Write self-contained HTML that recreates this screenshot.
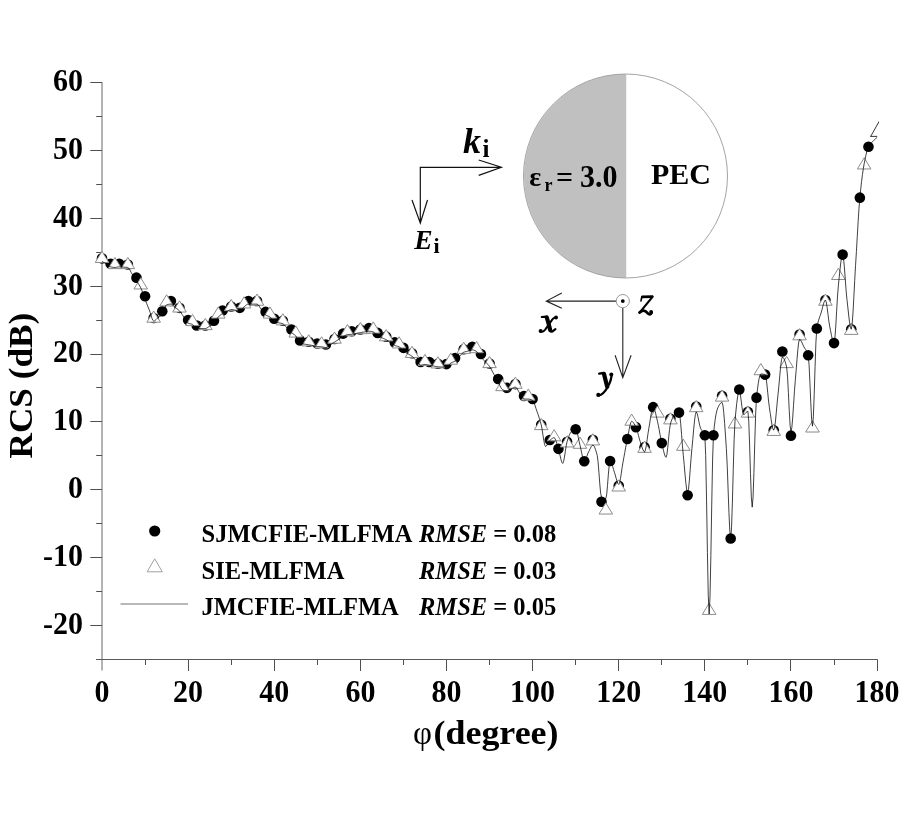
<!DOCTYPE html>
<html><head><meta charset="utf-8"><style>
html,body{margin:0;padding:0;background:#fff;}
body{width:900px;height:814px;overflow:hidden;font-family:"Liberation Serif",serif;}
svg{display:block;transform:translateZ(0);}
</style></head><body>
<svg width="900" height="814" viewBox="0 0 900 814">
<line x1="102" y1="82" x2="102" y2="670.5" stroke="#b4b4b4" stroke-width="2"/>
<line x1="96" y1="659.5" x2="877.5" y2="659.5" stroke="#5a5a5a" stroke-width="1.2"/>
<path d="M90.3 625.50H102 M96.2 591.50H102 M90.3 557.50H102 M96.2 523.50H102 M90.3 489.50H102 M96.2 455.50H102 M90.3 421.50H102 M96.2 387.50H102 M90.3 354.50H102 M96.2 320.50H102 M90.3 286.50H102 M96.2 252.50H102 M90.3 218.50H102 M96.2 184.50H102 M90.3 150.50H102 M96.2 116.50H102 M90.3 82.50H102 M145.50 659.5V665 M188.50 659.5V671 M231.50 659.5V665 M274.50 659.5V671 M317.50 659.5V665 M360.50 659.5V671 M403.50 659.5V665 M446.50 659.5V671 M489.50 659.5V665 M532.50 659.5V671 M575.50 659.5V665 M618.50 659.5V671 M661.50 659.5V665 M704.50 659.5V671 M747.50 659.5V665 M790.50 659.5V671 M834.50 659.5V665 M877.50 659.5V671" stroke="#505050" stroke-width="1" fill="none"/>
<g font-family="Liberation Serif" font-weight="bold" font-size="30" fill="#000"><text transform="translate(83,633.5) scale(1,1.07)" text-anchor="end">-20</text><text transform="translate(83,565.7) scale(1,1.07)" text-anchor="end">-10</text><text transform="translate(83,497.9) scale(1,1.07)" text-anchor="end">0</text><text transform="translate(83,430.1) scale(1,1.07)" text-anchor="end">10</text><text transform="translate(83,362.3) scale(1,1.07)" text-anchor="end">20</text><text transform="translate(83,294.5) scale(1,1.07)" text-anchor="end">30</text><text transform="translate(83,226.7) scale(1,1.07)" text-anchor="end">40</text><text transform="translate(83,158.9) scale(1,1.07)" text-anchor="end">50</text><text transform="translate(83,91.1) scale(1,1.07)" text-anchor="end">60</text><text transform="translate(102.0,701.6) scale(1,1.07)" text-anchor="middle">0</text><text transform="translate(188.1,701.6) scale(1,1.07)" text-anchor="middle">20</text><text transform="translate(274.2,701.6) scale(1,1.07)" text-anchor="middle">40</text><text transform="translate(360.4,701.6) scale(1,1.07)" text-anchor="middle">60</text><text transform="translate(446.5,701.6) scale(1,1.07)" text-anchor="middle">80</text><text transform="translate(532.6,701.6) scale(1,1.07)" text-anchor="middle">100</text><text transform="translate(618.7,701.6) scale(1,1.07)" text-anchor="middle">120</text><text transform="translate(704.8,701.6) scale(1,1.07)" text-anchor="middle">140</text><text transform="translate(791.0,701.6) scale(1,1.07)" text-anchor="middle">160</text><text transform="translate(877.1,701.6) scale(1,1.07)" text-anchor="middle">180</text></g>
<text transform="translate(32,458.5) rotate(-90) scale(1.035,1)" font-family="Liberation Serif" font-weight="bold" font-size="34">RCS (dB)</text>
<text x="413" y="743.5" font-family="Liberation Serif" font-size="33">φ</text>
<text transform="translate(433.5,743.5) scale(1.089,1)" font-family="Liberation Serif" font-weight="bold" font-size="33">(degree)</text>
<path d="M626 74 A102 102 0 0 0 626 278 Z" fill="#c0c0c0"/>
<circle cx="625.5" cy="176" r="102" fill="none" stroke="#9a9a9a" stroke-width="0.9"/>
<line x1="626" y1="74" x2="626" y2="278" stroke="#c0c0c0" stroke-width="0.5"/>
<defs><clipPath id="pc"><rect x="95" y="60" width="784" height="620"/></clipPath></defs>
<g clip-path="url(#pc)">
<g fill="#000"><circle cx="102.00" cy="258.34" r="5.3"/><circle cx="110.61" cy="263.76" r="5.3"/><circle cx="119.22" cy="263.76" r="5.3"/><circle cx="127.84" cy="264.44" r="5.3"/><circle cx="136.45" cy="277.66" r="5.3"/><circle cx="145.06" cy="296.31" r="5.3"/><circle cx="153.67" cy="318.00" r="5.3"/><circle cx="162.28" cy="311.23" r="5.3"/><circle cx="170.90" cy="301.05" r="5.3"/><circle cx="179.51" cy="307.83" r="5.3"/><circle cx="188.12" cy="320.04" r="5.3"/><circle cx="196.73" cy="325.46" r="5.3"/><circle cx="205.34" cy="325.46" r="5.3"/><circle cx="213.96" cy="320.72" r="5.3"/><circle cx="222.57" cy="310.55" r="5.3"/><circle cx="231.18" cy="306.48" r="5.3"/><circle cx="239.79" cy="307.83" r="5.3"/><circle cx="248.40" cy="301.05" r="5.3"/><circle cx="257.02" cy="301.05" r="5.3"/><circle cx="265.63" cy="311.90" r="5.3"/><circle cx="274.24" cy="318.68" r="5.3"/><circle cx="282.85" cy="320.72" r="5.3"/><circle cx="291.46" cy="329.53" r="5.3"/><circle cx="300.08" cy="340.38" r="5.3"/><circle cx="308.69" cy="341.74" r="5.3"/><circle cx="317.30" cy="343.43" r="5.3"/><circle cx="325.91" cy="344.45" r="5.3"/><circle cx="334.52" cy="339.02" r="5.3"/><circle cx="343.14" cy="333.60" r="5.3"/><circle cx="351.75" cy="331.23" r="5.3"/><circle cx="360.36" cy="329.53" r="5.3"/><circle cx="368.97" cy="328.17" r="5.3"/><circle cx="377.58" cy="332.92" r="5.3"/><circle cx="386.20" cy="336.65" r="5.3"/><circle cx="394.81" cy="342.41" r="5.3"/><circle cx="403.42" cy="347.84" r="5.3"/><circle cx="412.03" cy="353.26" r="5.3"/><circle cx="420.64" cy="362.07" r="5.3"/><circle cx="429.26" cy="362.07" r="5.3"/><circle cx="437.87" cy="363.77" r="5.3"/><circle cx="446.48" cy="364.11" r="5.3"/><circle cx="455.09" cy="358.01" r="5.3"/><circle cx="463.70" cy="349.19" r="5.3"/><circle cx="472.32" cy="346.82" r="5.3"/><circle cx="480.93" cy="353.94" r="5.3"/><circle cx="489.54" cy="363.43" r="5.3"/><circle cx="498.15" cy="379.02" r="5.3"/><circle cx="506.76" cy="387.84" r="5.3"/><circle cx="515.38" cy="384.11" r="5.3"/><circle cx="523.99" cy="395.97" r="5.3"/><circle cx="532.60" cy="399.03" r="5.3"/><circle cx="541.21" cy="424.79" r="5.3"/><circle cx="549.82" cy="440.04" r="5.3"/><circle cx="558.44" cy="448.86" r="5.3"/><circle cx="567.05" cy="441.74" r="5.3"/><circle cx="575.66" cy="429.20" r="5.3"/><circle cx="584.27" cy="461.20" r="5.3"/><circle cx="592.88" cy="439.71" r="5.3"/><circle cx="601.50" cy="501.74" r="5.3"/><circle cx="610.11" cy="460.93" r="5.3"/><circle cx="618.72" cy="485.81" r="5.3"/><circle cx="627.33" cy="439.03" r="5.3"/><circle cx="635.94" cy="427.16" r="5.3"/><circle cx="644.56" cy="447.16" r="5.3"/><circle cx="653.17" cy="407.16" r="5.3"/><circle cx="661.78" cy="443.10" r="5.3"/><circle cx="670.39" cy="418.69" r="5.3"/><circle cx="679.00" cy="412.59" r="5.3"/><circle cx="687.62" cy="495.30" r="5.3"/><circle cx="696.23" cy="406.48" r="5.3"/><circle cx="704.84" cy="435.30" r="5.3"/><circle cx="713.45" cy="435.30" r="5.3"/><circle cx="722.06" cy="395.91" r="5.3"/><circle cx="730.68" cy="538.49" r="5.3"/><circle cx="739.29" cy="389.53" r="5.3"/><circle cx="747.90" cy="411.91" r="5.3"/><circle cx="756.51" cy="397.67" r="5.3"/><circle cx="765.12" cy="374.62" r="5.3"/><circle cx="773.74" cy="430.21" r="5.3"/><circle cx="782.35" cy="351.57" r="5.3"/><circle cx="790.96" cy="435.64" r="5.3"/><circle cx="799.57" cy="334.62" r="5.3"/><circle cx="808.18" cy="355.23" r="5.3"/><circle cx="816.80" cy="328.51" r="5.3"/><circle cx="825.41" cy="300.04" r="5.3"/><circle cx="834.02" cy="343.09" r="5.3"/><circle cx="842.63" cy="254.61" r="5.3"/><circle cx="851.24" cy="329.19" r="5.3"/><circle cx="859.86" cy="197.66" r="5.3"/><circle cx="868.47" cy="146.81" r="5.3"/></g>
<path d="M102.00 251.32L108.80 262.52L95.20 262.52ZM114.92 257.43L121.72 268.63L108.12 268.63ZM127.84 257.43L134.64 268.63L121.04 268.63ZM140.75 277.77L147.55 288.97L133.95 288.97ZM153.67 310.99L160.47 322.19L146.87 322.19ZM166.59 294.72L173.39 305.92L159.79 305.92ZM179.51 300.82L186.31 312.02L172.71 312.02ZM192.43 314.38L199.23 325.58L185.63 325.58ZM205.34 318.45L212.14 329.65L198.54 329.65ZM218.26 306.92L225.06 318.12L211.46 318.12ZM231.18 299.46L237.98 310.66L224.38 310.66ZM244.10 296.75L250.90 307.95L237.30 307.95ZM257.02 294.04L263.82 305.24L250.22 305.24ZM269.93 306.92L276.73 318.12L263.13 318.12ZM282.85 313.70L289.65 324.90L276.05 324.90ZM295.77 325.90L302.57 337.10L288.97 337.10ZM308.69 334.72L315.49 345.92L301.89 345.92ZM321.61 336.75L328.41 347.95L314.81 347.95ZM334.52 332.01L341.32 343.21L327.72 343.21ZM347.44 324.55L354.24 335.75L340.64 335.75ZM360.36 322.51L367.16 333.71L353.56 333.71ZM373.28 321.84L380.08 333.04L366.48 333.04ZM386.20 329.63L393.00 340.83L379.40 340.83ZM399.11 336.75L405.91 347.95L392.31 347.95ZM412.03 346.24L418.83 357.44L405.23 357.44ZM424.95 354.38L431.75 365.58L418.15 365.58ZM437.87 356.75L444.67 367.95L431.07 367.95ZM450.79 353.02L457.59 364.22L443.99 364.22ZM463.70 342.18L470.50 353.38L456.90 353.38ZM476.62 341.50L483.42 352.70L469.82 352.70ZM489.54 356.41L496.34 367.61L482.74 367.61ZM502.46 379.47L509.26 390.67L495.66 390.67ZM515.38 377.09L522.18 388.29L508.58 388.29ZM528.29 388.96L535.09 400.16L521.49 400.16ZM541.21 418.45L548.01 429.65L534.41 429.65ZM554.13 429.64L560.93 440.84L547.33 440.84ZM567.05 435.74L573.85 446.94L560.25 446.94ZM579.97 437.10L586.77 448.30L573.17 448.30ZM592.88 433.71L599.68 444.91L586.08 444.91ZM605.80 502.86L612.60 514.06L599.00 514.06ZM618.72 479.81L625.52 491.01L611.92 491.01ZM631.64 414.04L638.44 425.24L624.84 425.24ZM644.56 441.16L651.36 452.36L637.76 452.36ZM657.47 405.91L664.27 417.11L650.67 417.11ZM670.39 412.69L677.19 423.89L663.59 423.89ZM683.31 439.13L690.11 450.33L676.51 450.33ZM696.23 400.48L703.03 411.68L689.43 411.68ZM709.15 603.21L715.95 614.41L702.35 614.41ZM722.06 389.91L728.86 401.11L715.26 401.11ZM734.98 416.76L741.78 427.96L728.18 427.96ZM747.90 405.91L754.70 417.11L741.10 417.11ZM760.82 363.53L767.62 374.73L754.02 374.73ZM773.74 424.21L780.54 435.41L766.94 435.41ZM786.65 356.41L793.45 367.61L779.85 367.61ZM799.57 328.62L806.37 339.82L792.77 339.82ZM812.49 420.82L819.29 432.02L805.69 432.02ZM825.41 294.04L832.21 305.24L818.61 305.24ZM838.33 268.27L845.13 279.47L831.53 279.47ZM851.24 323.19L858.04 334.39L844.44 334.39ZM864.16 157.76L870.96 168.96L857.36 168.96Z" fill="#fff" stroke="#8c8c8c" stroke-width="1"/>
<polyline points="102.00,261.39 102.86,261.93 103.72,262.48 104.58,263.02 105.44,263.56 106.31,264.10 107.17,264.70 108.03,265.35 108.89,265.97 109.75,266.48 110.61,266.82 111.47,267.03 112.33,267.21 113.20,267.36 114.06,267.46 114.92,267.49 115.78,267.42 116.64,267.26 117.50,267.05 118.36,266.89 119.22,266.82 120.09,266.84 120.95,266.90 121.81,266.99 122.67,267.08 123.53,267.16 124.39,267.21 125.25,267.26 126.11,267.31 126.97,267.39 127.84,267.49 128.70,268.05 129.56,269.28 130.42,270.89 131.28,272.59 132.14,274.10 133.00,275.42 133.86,276.73 134.73,278.04 135.59,279.36 136.45,280.71 137.31,282.05 138.17,283.36 139.03,284.72 139.89,286.19 140.75,287.83 141.62,289.80 142.48,292.09 143.34,294.54 144.20,297.01 145.06,299.36 145.92,301.57 146.78,303.75 147.64,305.90 148.50,308.05 149.37,310.21 150.23,312.72 151.09,315.59 151.95,318.28 152.81,320.27 153.67,321.06 154.53,320.81 155.39,320.19 156.26,319.35 157.12,318.45 157.98,317.67 158.84,317.04 159.70,316.46 160.56,315.86 161.42,315.16 162.28,314.28 163.15,312.69 164.01,310.34 164.87,307.83 165.73,305.77 166.59,304.78 167.45,304.55 168.31,304.36 169.17,304.22 170.03,304.14 170.90,304.11 171.76,304.35 172.62,304.97 173.48,305.81 174.34,306.71 175.20,307.50 176.06,308.14 176.92,308.76 177.79,309.39 178.65,310.08 179.51,310.89 180.37,311.88 181.23,313.08 182.09,314.38 182.95,315.71 183.81,316.99 184.68,318.33 185.54,319.80 186.40,321.21 187.26,322.37 188.12,323.09 188.98,323.45 189.84,323.69 190.70,323.89 191.56,324.12 192.43,324.45 193.29,325.13 194.15,326.17 195.01,327.28 195.87,328.16 196.73,328.51 197.59,328.51 198.45,328.51 199.32,328.51 200.18,328.51 201.04,328.51 201.90,328.51 202.76,328.51 203.62,328.51 204.48,328.51 205.34,328.51 206.21,328.34 207.07,327.91 207.93,327.32 208.79,326.69 209.65,326.14 210.51,325.70 211.37,325.30 212.23,324.88 213.09,324.39 213.96,323.77 214.82,322.76 215.68,321.31 216.54,319.69 217.40,318.16 218.26,316.99 219.12,316.14 219.98,315.39 220.85,314.72 221.71,314.13 222.57,313.60 223.43,313.13 224.29,312.71 225.15,312.33 226.01,311.95 226.87,311.56 227.74,311.09 228.60,310.56 229.46,310.05 230.32,309.68 231.18,309.53 232.04,309.58 232.90,309.70 233.76,309.87 234.62,310.05 235.49,310.21 236.35,310.37 237.21,310.54 238.07,310.71 238.93,310.84 239.79,310.89 240.65,310.57 241.51,309.77 242.38,308.72 243.24,307.66 244.10,306.82 244.96,306.12 245.82,305.39 246.68,304.75 247.54,304.28 248.40,304.11 249.27,304.11 250.13,304.11 250.99,304.11 251.85,304.11 252.71,304.11 253.57,304.11 254.43,304.11 255.29,304.11 256.15,304.11 257.02,304.11 257.88,304.50 258.74,305.49 259.60,306.84 260.46,308.27 261.32,309.53 262.18,310.69 263.04,311.94 263.91,313.14 264.77,314.18 265.63,314.95 266.49,315.45 267.35,315.82 268.21,316.15 269.07,316.51 269.93,316.99 270.80,317.79 271.66,318.91 272.52,320.10 273.38,321.12 274.24,321.73 275.10,322.02 275.96,322.24 276.82,322.41 277.68,322.57 278.55,322.75 279.41,322.93 280.27,323.10 281.13,323.27 281.99,323.48 282.85,323.77 283.71,324.30 284.57,325.13 285.44,326.15 286.30,327.21 287.16,328.17 288.02,329.07 288.88,329.99 289.74,330.90 290.60,331.77 291.46,332.58 292.33,333.28 293.19,333.88 294.05,334.48 294.91,335.15 295.77,335.97 296.63,337.30 297.49,339.15 298.35,341.07 299.21,342.64 300.08,343.43 300.94,343.64 301.80,343.78 302.66,343.89 303.52,343.99 304.38,344.11 305.24,344.24 306.10,344.37 306.97,344.50 307.83,344.64 308.69,344.79 309.55,344.94 310.41,345.11 311.27,345.29 312.13,345.46 312.99,345.63 313.86,345.81 314.72,346.01 315.58,346.19 316.44,346.36 317.30,346.48 318.16,346.56 319.02,346.63 319.88,346.68 320.74,346.74 321.61,346.82 322.47,346.95 323.33,347.12 324.19,347.30 325.05,347.44 325.91,347.50 326.77,347.30 327.63,346.80 328.50,346.13 329.36,345.42 330.22,344.79 331.08,344.24 331.94,343.70 332.80,343.16 333.66,342.62 334.52,342.07 335.39,341.53 336.25,340.99 337.11,340.45 337.97,339.90 338.83,339.36 339.69,338.81 340.55,338.24 341.41,337.68 342.27,337.14 343.14,336.65 344.00,336.16 344.86,335.66 345.72,335.19 346.58,334.83 347.44,334.62 348.30,334.52 349.16,334.46 350.03,334.41 350.89,334.36 351.75,334.28 352.61,334.15 353.47,333.99 354.33,333.80 355.19,333.61 356.05,333.43 356.92,333.26 357.78,333.08 358.64,332.91 359.50,332.74 360.36,332.58 361.22,332.44 362.08,332.30 362.94,332.17 363.80,332.04 364.67,331.90 365.53,331.75 366.39,331.57 367.25,331.40 368.11,331.27 368.97,331.23 369.83,331.26 370.69,331.35 371.56,331.50 372.42,331.68 373.28,331.90 374.14,332.39 375.00,333.26 375.86,334.28 376.72,335.26 377.58,335.97 378.45,336.43 379.31,336.82 380.17,337.16 381.03,337.49 381.89,337.84 382.75,338.20 383.61,338.54 384.47,338.90 385.33,339.28 386.20,339.70 387.06,340.20 387.92,340.76 388.78,341.37 389.64,341.99 390.50,342.58 391.36,343.19 392.22,343.83 393.09,344.46 393.95,345.02 394.81,345.46 395.67,345.78 396.53,346.01 397.39,346.23 398.25,346.48 399.11,346.82 399.98,347.40 400.84,348.23 401.70,349.18 402.56,350.11 403.42,350.89 404.28,351.50 405.14,352.05 406.00,352.57 406.86,353.07 407.73,353.60 408.59,354.12 409.45,354.62 410.31,355.13 411.17,355.69 412.03,356.31 412.89,357.06 413.75,357.92 414.62,358.86 415.48,359.80 416.34,360.72 417.20,361.74 418.06,362.90 418.92,364.00 419.78,364.81 420.64,365.13 421.51,365.06 422.37,364.89 423.23,364.69 424.09,364.52 424.95,364.45 425.81,364.49 426.67,364.61 427.53,364.78 428.39,364.96 429.26,365.13 430.12,365.28 430.98,365.45 431.84,365.63 432.70,365.80 433.56,365.97 434.42,366.16 435.28,366.37 436.15,366.56 437.01,366.72 437.87,366.82 438.73,366.87 439.59,366.91 440.45,366.93 441.31,366.96 442.17,366.99 443.04,367.03 443.90,367.07 444.76,367.12 445.62,367.15 446.48,367.16 447.34,366.82 448.20,365.99 449.06,364.91 449.92,363.86 450.79,363.09 451.65,362.62 452.51,362.25 453.37,361.91 454.23,361.54 455.09,361.06 455.95,360.38 456.81,359.53 457.68,358.57 458.54,357.58 459.40,356.65 460.26,355.69 461.12,354.64 461.98,353.64 462.84,352.80 463.70,352.24 464.57,351.92 465.43,351.67 466.29,351.47 467.15,351.27 468.01,351.06 468.87,350.78 469.73,350.47 470.59,350.17 471.45,349.96 472.32,349.87 473.18,349.96 474.04,350.22 474.90,350.60 475.76,351.06 476.62,351.57 477.48,352.30 478.34,353.36 479.21,354.60 480.07,355.86 480.93,356.99 481.79,357.98 482.65,358.93 483.51,359.87 484.37,360.80 485.23,361.74 486.10,362.65 486.96,363.52 487.82,364.42 488.68,365.39 489.54,366.48 490.40,367.80 491.26,369.33 492.12,370.98 492.98,372.66 493.85,374.28 494.71,375.84 495.57,377.41 496.43,378.98 497.29,380.54 498.15,382.08 499.01,383.75 499.87,385.58 500.74,387.31 501.60,388.71 502.46,389.53 503.32,389.97 504.18,390.34 505.04,390.63 505.90,390.82 506.76,390.89 507.63,390.76 508.49,390.41 509.35,389.95 510.21,389.46 511.07,389.03 511.93,388.59 512.79,388.10 513.65,387.64 514.51,387.30 515.38,387.16 516.24,387.59 517.10,388.68 517.96,390.15 518.82,391.72 519.68,393.09 520.54,394.47 521.40,396.04 522.27,397.51 523.13,398.60 523.99,399.03 524.85,399.03 525.71,399.03 526.57,399.03 527.43,399.03 528.29,399.03 529.16,399.09 530.02,399.27 530.88,399.56 531.74,399.93 532.60,400.38 533.46,401.43 534.32,403.39 535.18,405.91 536.04,408.64 536.91,411.23 537.77,413.65 538.63,416.14 539.49,418.77 540.35,421.63 541.21,424.79 542.07,429.18 542.93,434.83 543.80,440.45 544.66,444.76 545.52,446.49 546.38,445.97 547.24,444.70 548.10,443.07 548.96,441.50 549.82,440.38 550.69,439.62 551.55,438.89 552.41,438.27 553.27,437.83 554.13,437.67 554.99,438.46 555.85,440.51 556.71,443.31 557.57,446.37 558.44,449.20 559.30,452.31 560.16,456.04 561.02,459.65 561.88,462.36 562.74,463.44 563.60,461.62 564.46,457.13 565.33,451.37 566.19,445.77 567.05,441.74 567.91,439.03 568.77,436.54 569.63,434.37 570.49,432.68 571.35,431.57 572.22,430.83 573.08,430.18 573.94,429.66 574.80,429.32 575.66,429.20 576.52,430.34 577.38,433.27 578.24,437.22 579.10,441.42 579.97,445.13 580.83,448.85 581.69,453.09 582.55,457.08 583.41,460.04 584.27,461.20 585.13,460.48 585.99,458.68 586.86,456.31 587.72,453.88 588.58,451.91 589.44,450.20 590.30,448.39 591.16,446.76 592.02,445.58 592.88,445.13 593.75,445.66 594.61,447.14 595.47,449.36 596.33,452.15 597.19,455.30 598.05,461.68 598.91,472.20 599.77,483.73 600.63,493.15 601.50,497.34 602.36,497.81 603.22,498.19 604.08,498.47 604.94,498.64 605.80,498.69 606.66,494.74 607.52,485.33 608.39,474.09 609.25,464.67 610.11,460.72 610.97,461.54 611.83,463.64 612.69,466.49 613.55,469.53 614.41,472.25 615.28,475.04 616.14,478.25 617.00,481.30 617.86,483.56 618.72,484.45 619.58,482.85 620.44,478.76 621.30,473.23 622.16,467.31 623.03,462.08 623.89,457.42 624.75,452.61 625.61,447.84 626.47,443.26 627.33,439.03 628.19,434.64 629.05,429.95 629.92,425.69 630.78,422.59 631.64,421.40 632.50,421.74 633.36,422.64 634.22,423.94 635.08,425.51 635.94,427.16 636.81,429.35 637.67,432.33 638.53,435.68 639.39,438.95 640.25,441.74 641.11,444.33 641.97,447.05 642.83,449.48 643.69,451.24 644.56,451.91 645.42,450.16 646.28,445.70 647.14,439.74 648.00,433.50 648.86,428.18 649.72,423.14 650.58,417.57 651.45,412.42 652.31,408.63 653.17,407.16 654.03,408.09 654.89,410.52 655.75,413.91 656.61,417.72 657.47,421.40 658.34,425.31 659.20,429.86 660.06,434.63 660.92,439.19 661.78,443.10 662.64,446.78 663.50,450.58 664.36,453.97 665.22,456.40 666.09,457.33 666.95,454.35 667.81,447.06 668.67,437.93 669.53,429.46 670.39,424.11 671.25,421.34 672.11,418.97 672.98,417.03 673.84,415.56 674.70,414.62 675.56,413.98 676.42,413.42 677.28,412.98 678.14,412.69 679.00,412.59 679.87,415.75 680.73,423.80 681.59,434.53 682.45,445.76 683.31,455.30 684.17,464.27 685.03,474.16 685.89,483.29 686.75,489.99 687.62,492.59 688.48,489.29 689.34,480.92 690.20,469.79 691.06,458.22 691.92,448.52 692.78,439.59 693.64,429.87 694.51,420.96 695.37,414.44 696.23,411.91 697.09,413.28 697.95,416.68 698.81,421.03 699.67,425.22 700.53,428.18 701.40,429.75 702.26,430.80 703.12,431.77 703.98,433.12 704.84,435.30 705.70,455.63 706.56,500.16 707.42,552.38 708.28,595.81 709.15,613.95 710.01,596.90 710.87,555.64 711.73,505.04 712.59,459.97 713.45,435.30 714.31,426.64 715.17,419.65 716.04,414.24 716.90,410.33 717.76,407.84 718.62,406.12 719.48,404.63 720.34,403.46 721.20,402.69 722.06,402.42 722.93,405.26 723.79,412.79 724.65,423.51 725.51,435.92 726.37,448.52 727.23,465.68 728.09,488.97 728.95,512.67 729.81,531.08 730.68,538.49 731.54,527.86 732.40,501.92 733.26,469.59 734.12,439.77 734.98,421.40 735.84,412.03 736.70,403.69 737.57,396.98 738.43,392.51 739.29,390.89 740.15,393.36 741.01,399.24 741.87,406.27 742.73,412.15 743.59,414.62 744.46,414.27 745.32,413.43 746.18,412.42 747.04,411.58 747.90,411.23 748.76,421.21 749.62,445.00 750.48,473.40 751.34,497.19 752.21,507.17 753.07,497.03 753.93,472.37 754.79,441.83 755.65,414.05 756.51,397.67 757.37,390.21 758.23,383.70 759.10,378.55 759.96,375.16 760.82,373.94 761.68,373.97 762.54,374.05 763.40,374.19 764.26,374.38 765.12,374.62 765.99,377.39 766.85,383.94 767.71,392.42 768.57,401.00 769.43,407.84 770.29,413.59 771.15,419.57 772.01,424.91 772.87,428.74 773.74,430.21 774.60,427.65 775.46,421.08 776.32,412.20 777.18,402.70 778.04,394.28 778.90,385.72 779.76,375.88 780.63,366.60 781.49,359.70 782.35,356.99 783.21,357.49 784.07,358.88 784.93,361.05 785.79,363.85 786.65,367.16 787.52,376.11 788.38,392.36 789.24,410.58 790.10,425.43 790.96,431.57 791.82,427.74 792.68,418.05 793.54,405.19 794.40,391.85 795.27,380.72 796.13,370.58 796.99,359.59 797.85,349.54 798.71,342.20 799.57,339.36 800.43,339.88 801.29,341.23 802.16,343.06 803.02,345.03 803.88,346.82 804.74,348.23 805.60,349.47 806.46,350.86 807.32,352.68 808.18,355.23 809.05,364.53 809.91,382.36 810.77,402.63 811.63,419.25 812.49,426.15 813.35,416.85 814.21,394.36 815.07,366.75 815.93,342.11 816.80,328.51 817.66,323.90 818.52,320.51 819.38,317.86 820.24,315.49 821.10,312.92 821.96,309.77 822.82,306.35 823.69,303.22 824.55,300.93 825.41,300.04 826.27,302.14 827.13,307.39 827.99,314.23 828.85,321.12 829.71,326.48 830.58,330.82 831.44,335.27 832.30,339.20 833.16,342.02 834.02,343.09 834.88,338.43 835.74,326.80 836.60,311.78 837.46,296.93 838.33,285.80 839.19,277.39 840.05,269.01 840.91,261.71 841.77,256.56 842.63,254.61 843.49,258.12 844.35,266.93 845.22,278.45 846.08,290.12 846.94,299.36 847.80,307.04 848.66,315.02 849.52,322.13 850.38,327.24 851.24,329.19 852.11,324.67 852.97,313.07 853.83,297.35 854.69,280.50 855.55,265.46 856.41,251.45 857.27,236.47 858.13,221.73 858.99,208.39 859.86,197.66 860.72,189.07 861.58,181.39 862.44,174.61 863.30,168.73 864.16,163.76 865.02,159.37 865.88,155.33 866.75,151.79 867.61,148.90 868.47,146.81 869.33,145.34 870.19,144.16 871.05,143.18 871.91,142.28 872.77,141.39 873.64,140.50 874.50,139.68 875.36,138.89 876.22,138.11 877.08,137.32" fill="none" stroke="#000" stroke-width="0.75" stroke-linejoin="round"/>
<path d="M870.2 136.4H877.2 M870.8 136.2L879.2 121.3" fill="none" stroke="#000" stroke-width="0.8"/>
</g>
<circle cx="154.7" cy="531" r="5.6" fill="#000"/>
<path d="M154.7 558.8L162.3 571.8L147.1 571.8Z" fill="#fff" stroke="#a0a0a0" stroke-width="1"/>
<line x1="120.5" y1="604" x2="188" y2="604" stroke="#b8b8b8" stroke-width="1.8"/>
<g font-family="Liberation Serif" font-weight="bold" font-size="24.5" fill="#000"><text x="201.5" y="542.4">SJMCFIE-MLFMA</text><text x="201.5" y="579">SIE-MLFMA</text><text x="201.5" y="614.8">JMCFIE-MLFMA</text><text x="419" y="542.4"><tspan font-style="italic">RMSE</tspan> = 0.08</text><text x="419" y="579"><tspan font-style="italic">RMSE</tspan> = 0.03</text><text x="419" y="614.8"><tspan font-style="italic">RMSE</tspan> = 0.05</text></g>
<g font-family="Liberation Serif" font-weight="bold" font-size="30" fill="#000"><text x="651" y="184.4">PEC</text><text x="556" y="186.7">=</text><text transform="translate(580,186.7) scale(1,1.05)">3.0</text></g>
<text x="529.3" y="186" font-family="Liberation Serif" font-weight="bold" font-size="28">ε</text>
<text x="544.5" y="190.6" font-family="Liberation Serif" font-weight="bold" font-size="18">r</text>
<path d="M501.4 167.3H420.3V223.1 M478.7 160L501.4 167.3L478.7 175.4 M412 200L420.3 223.1L427.5 200" fill="none" stroke="#111" stroke-width="1.2"/>
<text x="463" y="152.7" font-family="Liberation Serif" font-weight="bold" font-style="italic" font-size="36">k</text>
<text x="482.5" y="157" font-family="Liberation Serif" font-weight="bold" font-size="25">i</text>
<text x="414.3" y="249" font-family="Liberation Serif" font-weight="bold" font-style="italic" font-size="27.5">E</text>
<text x="433.5" y="253" font-family="Liberation Serif" font-weight="bold" font-size="22">i</text>
<path d="M616.2 301.1H546.3 M561.8 293.1L546.3 301.1L561.8 308.2 M622.8 307.7V377.6 M615.1 355.3L622.8 377.6L631.1 355.3" fill="none" stroke="#222" stroke-width="1.1"/>
<circle cx="622.8" cy="301.1" r="6.6" fill="#fff" stroke="#999" stroke-width="1"/>
<circle cx="622.8" cy="301.1" r="1.9" fill="#000"/>
<g fill="none" stroke="#000" stroke-linecap="round" stroke-linejoin="round"><path d="M641.9 296.9 L652.9 296.6" stroke-width="2.9" stroke-linecap="butt"/><path d="M641.0 300.9 L641.9 296.5" stroke-width="1.6"/><path d="M652.7 296.6 L639.6 312.6" stroke-width="2.2"/><path d="M639.6 312.6 Q643.6 308.6 647.4 312.9 Q650.3 315.8 651.6 312.6" stroke-width="2.8"/><path d="M541.8 317.0 L546.3 316.6 Q548.3 322 549.3 327.5 Q550.3 332.5 552.3 331.6 L555.4 329.2" stroke-width="2.2"/><path d="M546.8 317.5 Q548.8 324 550.2 330" stroke-width="4.2"/><path d="M540.4 331.4 Q542.5 332.8 545.2 329.6 Q549.5 323.6 552.2 319.6 Q553.8 317.4 555.8 317.8" stroke-width="2.0"/><path d="M599.2 373.6 L603.6 373.0" stroke-width="2.4"/><path d="M604.0 374.0 L607.2 386.8" stroke-width="4.2"/><path d="M611.6 374.6 Q611.6 380 607.6 387.2 Q603.2 394.8 598.8 395.4" stroke-width="2.3"/></g><g fill="#000"><circle cx="651.1" cy="311.9" r="1.9"/><circle cx="540.6" cy="331.0" r="2.0"/><circle cx="556.0" cy="317.6" r="2.0"/><circle cx="611.3" cy="374.6" r="2.0"/><circle cx="598.3" cy="394.9" r="2.1"/></g>
</svg>
</body></html>
